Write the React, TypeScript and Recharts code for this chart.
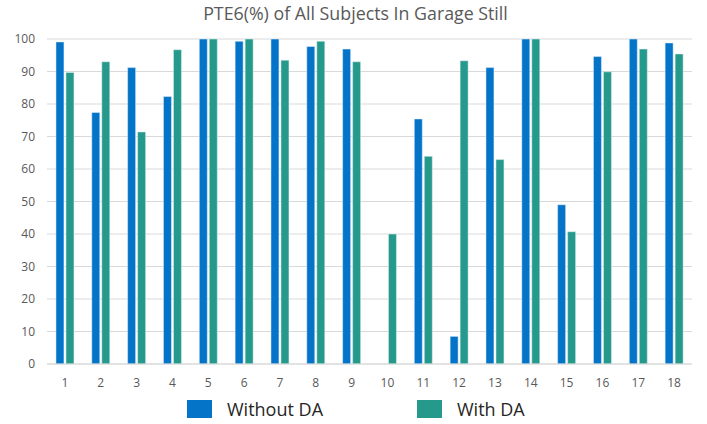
import React from "react";
import { BarChart, Bar, XAxis, YAxis, CartesianGrid, Legend } from "recharts";

const categories = ["1","2","3","4","5","6","7","8","9","10","11","12","13","14","15","16","17","18"];
const withoutDA = [99.1, 77.4, 91.2, 82.3, 100, 99.3, 100, 97.7, 96.9, 0, 75.4, 8.5, 91.2, 100, 49.0, 94.6, 100, 98.8];
const withDA = [89.7, 93.0, 71.4, 96.7, 100, 100, 93.5, 99.3, 93.0, 40.0, 63.9, 93.3, 62.9, 100, 40.7, 89.9, 96.9, 95.4];
const yTicks = [0, 10, 20, 30, 40, 50, 60, 70, 80, 90, 100];
const seriesNames = ["Without DA", "With DA"];
const colors = ["#0474C8", "#26998D"];

const data = categories.map((c, i) => ({ name: c, without: withoutDA[i], with: withDA[i] }));

const FONT = "'Open Sans', 'Noto Sans', sans-serif";

const LegendContent = () => {
  const items = [
    { label: seriesNames[0], color: colors[0], left: 187, textLeft: 227 },
    { label: seriesNames[1], color: colors[1], left: 417, textLeft: 457 },
  ];
  return (
    <div style={{ position: "relative", height: 36, width: 707, fontFamily: FONT }}>
      {items.map((it) => (
        <React.Fragment key={it.label}>
          <div style={{ position: "absolute", left: it.left, top: 12, width: 25, height: 18, background: it.color }} />
          <div style={{ position: "absolute", left: it.textLeft, top: 8, fontSize: 18, lineHeight: "26px", color: "#262626", whiteSpace: "nowrap" }}>{it.label}</div>
        </React.Fragment>
      ))}
    </div>
  );
};

export default function App() {
  return (
    <div style={{ position: "absolute", left: 0, top: 0, width: 707, height: 424, background: "#fff" }}>
      <div style={{ position: "absolute", left: 0, top: 1, width: 711, textAlign: "center", fontFamily: FONT, fontSize: 17.8, color: "#595959", lineHeight: "24px" }}>
        PTE6(%) of All Subjects In Garage Still
      </div>
      <BarChart
        width={707}
        height={424}
        data={data}
        margin={{ top: 39, right: 15, left: 0, bottom: 0 }}
        barCategoryGap="25%"
        barGap={2}
      >
        <CartesianGrid vertical={false} stroke="#d9d9d9" />
        <XAxis
          dataKey="name"
          tickLine={false}
          axisLine={{ stroke: "#d9d9d9" }}
          tick={{ fill: "#595959", fontSize: 12, fontFamily: FONT }}
          tickMargin={8}
          height={24}
          interval={0}
        />
        <YAxis
          domain={[0, 100]}
          ticks={yTicks}
          axisLine={false}
          tickLine={false}
          tick={{ fill: "#595959", fontSize: 12, fontFamily: FONT }}
          tickMargin={6}
          width={47}
          interval={0}
        />
        <Legend verticalAlign="bottom" height={36} content={<LegendContent />} />
        <Bar dataKey="without" name={seriesNames[0]} fill={colors[0]} stroke="#e8f2fb" strokeWidth={0.5} isAnimationActive={false} />
        <Bar dataKey="with" name={seriesNames[1]} fill={colors[1]} stroke="#e6f4f2" strokeWidth={0.5} isAnimationActive={false} />
      </BarChart>
    </div>
  );
}
